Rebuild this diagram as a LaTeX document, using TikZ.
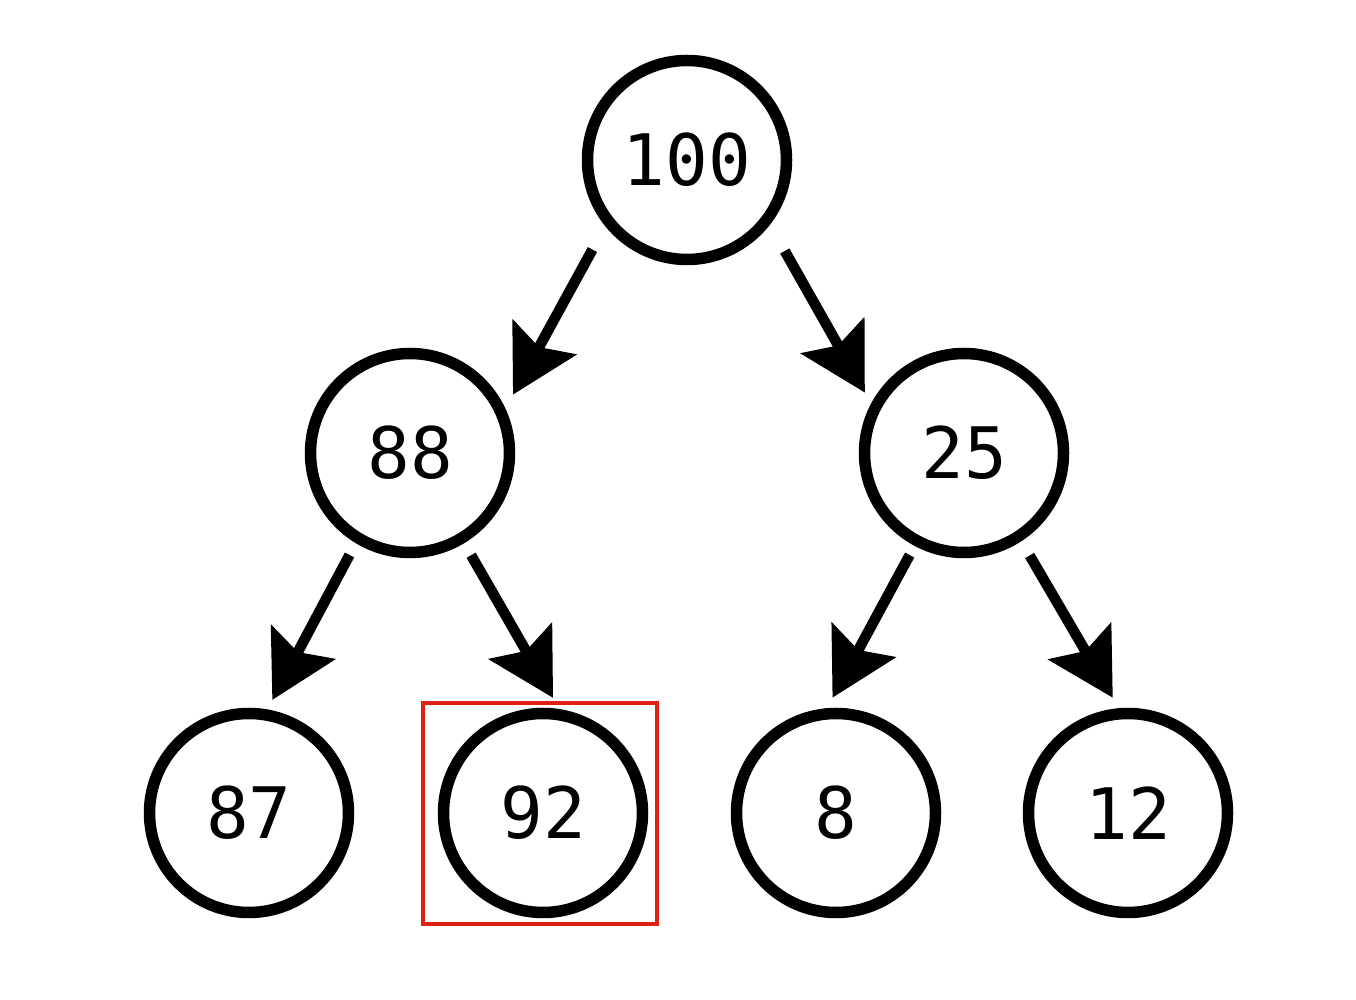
\documentclass[tikz,border=0pt]{standalone}
\usepackage{fontspec}
\newfontfamily\dmono{DejaVu Sans Mono}
\usetikzlibrary{arrows.meta}
\definecolor{hlred}{RGB}{222,32,22}
\begin{document}
\begin{tikzpicture}[x=1pt,y=1pt,
  hnode/.style={circle,draw=black,line width=11.5pt,minimum size=199pt,inner sep=0pt,font=\dmono\fontsize{71}{71}\selectfont},
  hedge/.style={line width=10.5pt,-{Stealth[length=66pt,width=74pt,inset=12pt,line width=0pt]}},
  redbox/.style={draw=hlred,line width=3.5pt}]
\fill[white] (0,0) rectangle (1356,1000);
\useasboundingbox (0,0) rectangle (1356,1000);
\draw[redbox] (423,76) rectangle (657,297);
\node[hnode] (n100) at (687,840) {100};
\node[hnode] (n88) at (410,547) {88};
\node[hnode] (n25) at (964,547) {25};
\node[hnode] (n87) at (249,187) {87};
\node[hnode] (n92) at (543,187) {92};
\node[hnode] (n8) at (836,187) {8};
\node[hnode] (n12) at (1128,187) {12};
\draw[hedge,shorten <=26.6pt,shorten >=16pt] (n100.219.4) -- (n88.25.8);
\draw[hedge,shorten <=30.1pt,shorten >=12.8pt] (n100.322.8) -- (n25.152.5);
\draw[hedge,shorten <=13.35pt,shorten >=10.85pt] (n88.239.2) -- (n87.80.4);
\draw[hedge,shorten <=13.85pt,shorten >=13.05pt] (n88.301.1) -- (n92.81.2);
\draw[hedge,shorten <=10.4pt,shorten >=12.1pt] (n25.242.2) -- (n8.95.7);
\draw[hedge,shorten <=16.5pt,shorten >=12.2pt] (n25.303.4) -- (n12.95.2);
\end{tikzpicture}
\end{document}
